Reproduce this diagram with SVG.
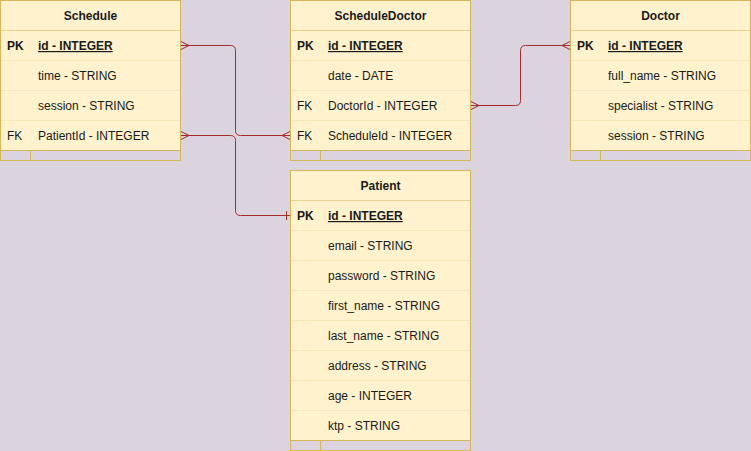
<svg xmlns="http://www.w3.org/2000/svg" width="751" height="451" viewBox="0 0 751 451">
<style>
.bg{fill:#dbd3dd}
.box{fill:none;stroke:#d6b656;stroke-width:1}
.fill{fill:#fff2cc}
.hsep{stroke:#e9d391;stroke-width:1}
.rsep{stroke:#f6e6b8;stroke-width:1}
.div{stroke:#d6b656;stroke-width:1}
text{font-family:"Liberation Sans",Arial,sans-serif;font-size:12px;fill:#1a1a1a}
.title{font-weight:bold;text-anchor:middle}
.pk{font-weight:bold}
.u{text-decoration:underline}
.edge{fill:none;stroke:#a52a2a;stroke-width:1}
</style>
<rect class="bg" x="0" y="0" width="751" height="451"/>

<g id="Schedule" transform="translate(0.5,0.5)">
<rect class="fill" x="0" y="0" width="180" height="150"/>
<line class="hsep" x1="0" y1="30" x2="180" y2="30"/>
<line class="rsep" x1="0" y1="60" x2="180" y2="60"/>
<line class="rsep" x1="0" y1="90" x2="180" y2="90"/>
<line class="rsep" x1="0" y1="120" x2="180" y2="120"/>
<line class="div" x1="0" y1="150" x2="180" y2="150"/>
<line class="div" x1="30" y1="150" x2="30" y2="160"/>
<rect class="box" x="0" y="0" width="180" height="160"/>
<text class="title" x="90" y="19.5">Schedule</text>
<text class="pk" x="6.5" y="49.5">PK</text><text class="pk u" x="37.5" y="49.5">id - INTEGER</text>
<text x="37.5" y="79.5">time - STRING</text>
<text x="37.5" y="109.5">session - STRING</text>
<text x="6.5" y="139.5">FK</text><text x="37.5" y="139.5">PatientId - INTEGER</text>
</g>

<g id="ScheduleDoctor" transform="translate(290.5,0.5)">
<rect class="fill" x="0" y="0" width="180" height="150"/>
<line class="hsep" x1="0" y1="30" x2="180" y2="30"/>
<line class="rsep" x1="0" y1="60" x2="180" y2="60"/>
<line class="rsep" x1="0" y1="90" x2="180" y2="90"/>
<line class="rsep" x1="0" y1="120" x2="180" y2="120"/>
<line class="div" x1="0" y1="150" x2="180" y2="150"/>
<line class="div" x1="30" y1="150" x2="30" y2="160"/>
<rect class="box" x="0" y="0" width="180" height="160"/>
<text class="title" x="90" y="19.5">ScheduleDoctor</text>
<text class="pk" x="6.5" y="49.5">PK</text><text class="pk u" x="37.5" y="49.5">id - INTEGER</text>
<text x="37.5" y="79.5">date - DATE</text>
<text x="6.5" y="109.5">FK</text><text x="37.5" y="109.5">DoctorId - INTEGER</text>
<text x="6.5" y="139.5">FK</text><text x="37.5" y="139.5">ScheduleId - INTEGER</text>
</g>

<g id="Doctor" transform="translate(570.5,0.5)">
<rect class="fill" x="0" y="0" width="180" height="150"/>
<line class="hsep" x1="0" y1="30" x2="180" y2="30"/>
<line class="rsep" x1="0" y1="60" x2="180" y2="60"/>
<line class="rsep" x1="0" y1="90" x2="180" y2="90"/>
<line class="rsep" x1="0" y1="120" x2="180" y2="120"/>
<line class="div" x1="0" y1="150" x2="180" y2="150"/>
<line class="div" x1="30" y1="150" x2="30" y2="160"/>
<rect class="box" x="0" y="0" width="180" height="160"/>
<text class="title" x="90" y="19.5">Doctor</text>
<text class="pk" x="6.5" y="49.5">PK</text><text class="pk u" x="37.5" y="49.5">id - INTEGER</text>
<text x="37.5" y="79.5">full_name - STRING</text>
<text x="37.5" y="109.5">specialist - STRING</text>
<text x="37.5" y="139.5">session - STRING</text>
</g>

<g id="Patient" transform="translate(290.5,170.5)">
<rect class="fill" x="0" y="0" width="180" height="270"/>
<line class="hsep" x1="0" y1="30" x2="180" y2="30"/>
<line class="rsep" x1="0" y1="60" x2="180" y2="60"/>
<line class="rsep" x1="0" y1="90" x2="180" y2="90"/>
<line class="rsep" x1="0" y1="120" x2="180" y2="120"/>
<line class="rsep" x1="0" y1="150" x2="180" y2="150"/>
<line class="rsep" x1="0" y1="180" x2="180" y2="180"/>
<line class="rsep" x1="0" y1="210" x2="180" y2="210"/>
<line class="rsep" x1="0" y1="240" x2="180" y2="240"/>
<line class="div" x1="0" y1="270" x2="180" y2="270"/>
<line class="div" x1="30" y1="270" x2="30" y2="280"/>
<rect class="box" x="0" y="0" width="180" height="280"/>
<text class="title" x="90" y="19.5">Patient</text>
<text class="pk" x="6.5" y="49.5">PK</text><text class="pk u" x="37.5" y="49.5">id - INTEGER</text>
<text x="37.5" y="79.5">email - STRING</text>
<text x="37.5" y="109.5">password - STRING</text>
<text x="37.5" y="139.5">first_name - STRING</text>
<text x="37.5" y="169.5">last_name - STRING</text>
<text x="37.5" y="199.5">address - STRING</text>
<text x="37.5" y="229.5">age - INTEGER</text>
<text x="37.5" y="259.5">ktp - STRING</text>
</g>

<g id="connectors" class="edge">
<path d="M181,45.5 H230.5 Q235.5,45.5 235.5,50.5 V130.5 Q235.5,135.5 240.5,135.5 H290"/>
<path d="M181,41.5 L189,45.5 L181,49.5"/>
<path d="M290,131.5 L282,135.5 L290,139.5"/>
<path d="M181,135.5 H230.5 Q235.5,135.5 235.5,140.5 V210.5 Q235.5,215.5 240.5,215.5 H290"/>
<path d="M181,131.5 L189,135.5 L181,139.5"/>
<path d="M286.5,211 V220"/>
<path d="M471,105.5 H515.5 Q520.5,105.5 520.5,100.5 V50.5 Q520.5,45.5 525.5,45.5 H570"/>
<path d="M471,101.5 L479,105.5 L471,109.5"/>
<path d="M570,41.5 L562,45.5 L570,49.5"/>
</g>
</svg>
